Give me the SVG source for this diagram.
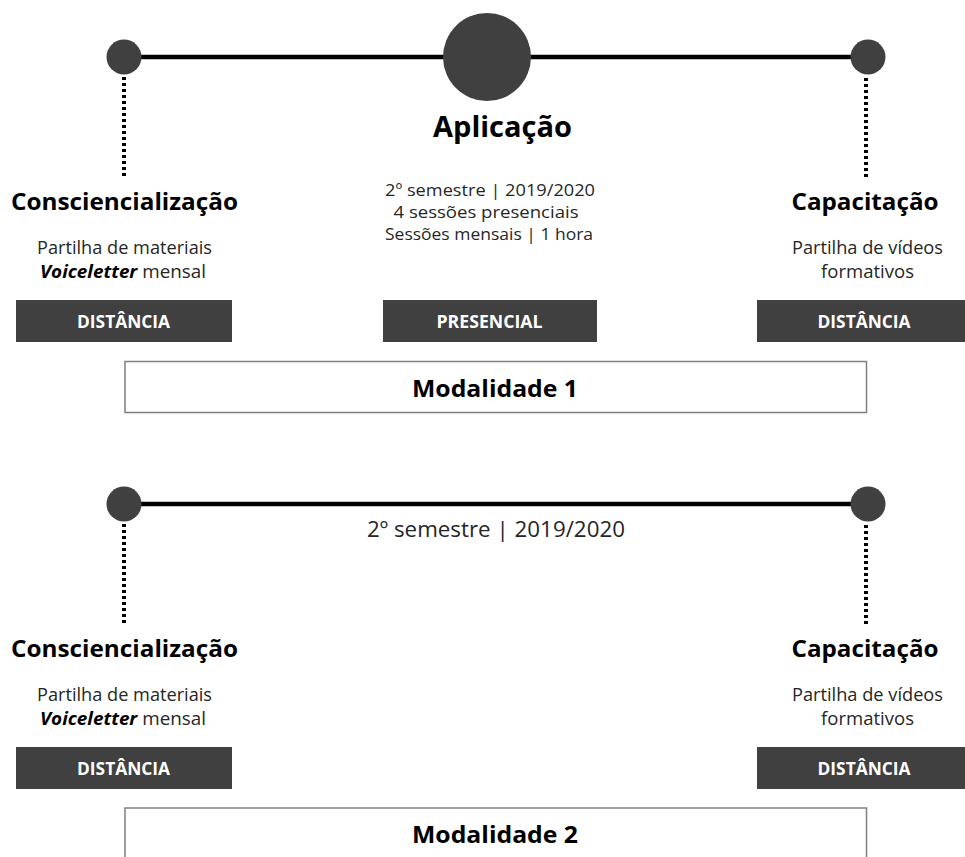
<svg xmlns="http://www.w3.org/2000/svg" width="965" height="857" viewBox="0 0 965 857">
<style>
text{font-family:"Open Sans","Noto Sans","Liberation Sans",sans-serif;text-anchor:middle}
.title{font-weight:bold;font-size:24px;fill:#000}
.big{font-weight:bold;font-size:29px;fill:#000}
.sub{font-size:18px;fill:#262626}
.mid{font-size:16px;fill:#262626}
.sub2{font-size:22px;fill:#262626}
.tag{font-weight:bold;font-size:17px;fill:#fff}
.tagbox{fill:#404040}
.dot{fill:#404040}
.tl{stroke:#000;stroke-width:4.5;fill:none}
.dash{stroke:#000;stroke-width:4;stroke-dasharray:3 3;fill:none}
.mod{fill:#fff;stroke:#7f7f7f;stroke-width:1.5}
.bi{font-weight:bold;font-style:italic;fill:#000}
</style>
<g id="connectors">
<line class="tl" x1="124" y1="57" x2="868" y2="57"/>
<line class="dash" x1="124" y1="77" x2="124" y2="178"/>
<line class="dash" x1="866" y1="78" x2="866" y2="179"/>
<line class="tl" x1="124" y1="504" x2="868" y2="504"/>
<line class="dash" x1="124" y1="524" x2="124" y2="625"/>
<line class="dash" x1="866" y1="525" x2="866" y2="626"/>
</g>
<g id="m1-conscient">
<circle class="dot" cx="124" cy="57" r="17.5"/>
<text class="title" x="124.5" y="210" textLength="227" lengthAdjust="spacingAndGlyphs">Consciencialização</text>
<text class="sub" x="124.5" y="254" textLength="175" lengthAdjust="spacingAndGlyphs">Partilha de materiais</text>
<text class="sub" x="123" y="278" textLength="166" lengthAdjust="spacingAndGlyphs"><tspan class="bi">Voiceletter</tspan> mensal</text>
<rect class="tagbox" x="16" y="300" width="216" height="42"/>
<text class="tag" x="123.5" y="328" textLength="93" lengthAdjust="spacingAndGlyphs">DISTÂNCIA</text>
</g>
<g id="m1-aplicacao">
<circle class="dot" cx="487" cy="57" r="44"/>
<text class="big" x="502.5" y="137" textLength="139" lengthAdjust="spacingAndGlyphs">Aplicação</text>
<text class="mid" x="490" y="196" textLength="210" lengthAdjust="spacingAndGlyphs">2º semestre | 2019/2020</text>
<text class="mid" x="486" y="218" textLength="185" lengthAdjust="spacingAndGlyphs">4 sessões presenciais</text>
<text class="mid" x="489" y="240" textLength="208" lengthAdjust="spacingAndGlyphs">Sessões mensais | 1 hora</text>
<rect class="tagbox" x="383" y="300" width="214" height="42"/>
<text class="tag" x="489.5" y="328" textLength="106" lengthAdjust="spacingAndGlyphs">PRESENCIAL</text>
</g>
<g id="m1-capacitacao">
<circle class="dot" cx="868" cy="57" r="17.5"/>
<text class="title" x="865" y="210" textLength="147" lengthAdjust="spacingAndGlyphs">Capacitação</text>
<text class="sub" x="867.5" y="254" textLength="151" lengthAdjust="spacingAndGlyphs">Partilha de vídeos</text>
<text class="sub" x="867.5" y="278" textLength="93" lengthAdjust="spacingAndGlyphs">formativos</text>
<rect class="tagbox" x="757" y="300" width="210" height="42"/>
<text class="tag" x="864" y="328" textLength="93" lengthAdjust="spacingAndGlyphs">DISTÂNCIA</text>
</g>
<g id="modalidade1">
<rect class="mod" x="125" y="361.5" width="741.5" height="51"/>
<text class="title" x="495" y="397" textLength="166" lengthAdjust="spacingAndGlyphs">Modalidade 1</text>
</g>
<g id="m2-semestre">
<text class="sub2" x="496" y="537" textLength="258" lengthAdjust="spacingAndGlyphs">2º semestre | 2019/2020</text>
</g>
<g id="m2-conscient">
<circle class="dot" cx="124" cy="504" r="17.5"/>
<text class="title" x="124.5" y="657" textLength="227" lengthAdjust="spacingAndGlyphs">Consciencialização</text>
<text class="sub" x="124.5" y="701" textLength="175" lengthAdjust="spacingAndGlyphs">Partilha de materiais</text>
<text class="sub" x="123" y="725" textLength="166" lengthAdjust="spacingAndGlyphs"><tspan class="bi">Voiceletter</tspan> mensal</text>
<rect class="tagbox" x="16" y="747" width="216" height="42"/>
<text class="tag" x="123.5" y="775" textLength="93" lengthAdjust="spacingAndGlyphs">DISTÂNCIA</text>
</g>
<g id="m2-capacitacao">
<circle class="dot" cx="868" cy="504" r="17.5"/>
<text class="title" x="865" y="657" textLength="147" lengthAdjust="spacingAndGlyphs">Capacitação</text>
<text class="sub" x="867.5" y="701" textLength="151" lengthAdjust="spacingAndGlyphs">Partilha de vídeos</text>
<text class="sub" x="867.5" y="725" textLength="93" lengthAdjust="spacingAndGlyphs">formativos</text>
<rect class="tagbox" x="757" y="747" width="210" height="42"/>
<text class="tag" x="864" y="775" textLength="93" lengthAdjust="spacingAndGlyphs">DISTÂNCIA</text>
</g>
<g id="modalidade2">
<rect class="mod" x="125" y="808" width="741.5" height="60"/>
<text class="title" x="495" y="843" textLength="166" lengthAdjust="spacingAndGlyphs">Modalidade 2</text>
</g>
</svg>
